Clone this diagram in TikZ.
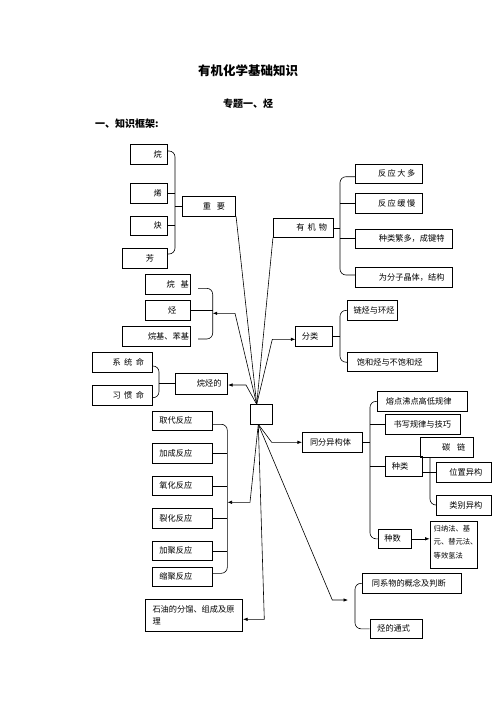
\documentclass[tikz,border=0pt]{standalone}
\usepackage{fontspec}
\newfontfamily\cjk{Noto Sans CJK SC}
\usetikzlibrary{arrows.meta}
\newcommand\mybox[7]{%
  \node[box, minimum width={(#4-#2)*1pt}, minimum height={(#5-#3)*1pt}] (#1) at ({(#2+#4)/2},{(#3+#5)/2}) {};
  \node[txt] (#1t) at (#6,{(#3+#5)/2}) {#7};}
\tikzset{
  box/.style={draw, line width=0.7pt, inner sep=0pt},
  txt/.style={inner sep=0pt, font=\cjk\fontsize{8.2}{10}\selectfont},
  ln/.style={line width=0.6pt},
  rc/.style={line width=0.6pt, rounded corners=6pt},
  arr/.style={line width=0.6pt, -{Latex[length=4.5pt,width=3.5pt]}},
}
\begin{document}
\begin{tikzpicture}[x=1pt,y=-1pt]
\useasboundingbox (0,0) rectangle (496,702);
% headings
\node[inner sep=0pt, font=\cjk\bfseries\fontsize{12.5}{14}\selectfont] (title) at (248,70.7) {有机化学基础知识};
\node[inner sep=0pt, font=\cjk\bfseries\fontsize{10}{12}\selectfont] (sub) at (248,103.3) {专题一、烃};
\node[inner sep=0pt, anchor=west, font=\cjk\bfseries\fontsize{10}{12}\selectfont] (sec) at (95,123.3) {一、知识框架:};
% top-left group
\mybox{wan}{130}{144.3}{167.7}{164.3}{157.7}{烷}
\mybox{xi}{130}{183.3}{167.7}{203.3}{157.7}{烯}
\mybox{que}{130}{216}{167.7}{235}{157.7}{炔}
\mybox{fang}{122.3}{248.3}{167.7}{268.3}{150}{芳}
\mybox{zy}{182.3}{196.3}{235.7}{216}{214}{重\hspace{6pt}要}
% organic compounds group
\mybox{yjw}{273.3}{218.3}{333.3}{237.3}{311.7}{有\hspace{3pt}机\hspace{3pt}物}
\mybox{fy1}{355.7}{164.3}{422.3}{183.3}{396.7}{反\hspace{1.5pt}应\hspace{1.5pt}大\hspace{1.5pt}多}
\mybox{fy2}{355.7}{193.3}{422.3}{213.3}{396.7}{反\hspace{1.5pt}应\hspace{1.5pt}缓\hspace{1.5pt}慢}
\mybox{zl}{355.7}{229}{452.3}{248.3}{411.7}{种类繁多，成键特}
\mybox{wf}{355.7}{267.7}{452.3}{287.7}{411.7}{为分子晶体，结构}
% groups
\mybox{wj}{145.7}{274.3}{190.7}{294.3}{177.7}{烷\hspace{6pt}基}
\mybox{ting}{145.7}{300.7}{190.7}{320}{172.3}{烃}
\mybox{wb}{122.3}{326.7}{190.7}{346}{168.5}{烷基、苯基}
% naming
\mybox{xt}{92.3}{352.3}{152.7}{372.3}{128.3}{系\hspace{3.5pt}统\hspace{3.5pt}命}
\mybox{xg}{92.3}{385.7}{152.7}{405}{128.3}{习\hspace{3.5pt}惯\hspace{3.5pt}命}
\mybox{wtd}{175.7}{373.3}{227.7}{394}{209.2}{烷烃的}
% classification
\mybox{fl}{295.7}{326.7}{332.7}{346}{310}{分类}
\mybox{lh}{347.3}{300.7}{397.3}{320}{374}{链烃与环烃}
\mybox{bh}{347.3}{352.7}{437.3}{371.7}{389.7}{饱和烃与不饱和烃}
% center
\node[box, minimum width=22.2pt, minimum height=20pt] (c) at (261.6,414.3) {};
\coordinate (ctop) at (256.7,404.3);
\coordinate (cbot) at (258.3,424.3);
% isomers
\mybox{tf}{302.3}{432.3}{362.3}{452.3}{330.5}{同分异构体}
\mybox{rd}{377.3}{391.7}{467.3}{411}{418.7}{熔点沸点高低规律}
\mybox{sx}{385.7}{414.3}{460.7}{434}{422.3}{书写规律与技巧}
\mybox{tl}{420.7}{437.5}{473.3}{457.3}{453.7}{碳\hspace{7pt}链}
\mybox{zlb}{385.7}{456.3}{422.7}{476.7}{400}{种类}
\mybox{wz}{436}{462.3}{491.5}{482.3}{465.8}{位置异构}
\mybox{lb}{436}{495}{491.5}{515}{465.8}{类别异构}
\mybox{zs}{378.3}{529.3}{411.7}{548.3}{392.5}{种数}
\node[box, minimum width=47pt, minimum height=47pt] (gn) at (453.5,544.5) {};
\node[txt, anchor=north west, align=left, font=\cjk\fontsize{7.3}{13.5}\selectfont] (gnt) at (433.5,525) {归纳法、基\\元、替元法、\\等效氢法};
% reactions
\mybox{qd}{152.3}{411.7}{212.3}{430}{175.8}{取代反应}
\mybox{jc}{152.3}{443.3}{212.3}{463.3}{175.8}{加成反应}
\mybox{yh}{152.3}{476}{212.3}{495.7}{175.8}{氧化反应}
\mybox{lhf}{152.3}{508.3}{212.3}{528.3}{175.8}{裂化反应}
\mybox{jj}{152.3}{541}{212.3}{560.7}{175.8}{加聚反应}
\mybox{sj}{152.3}{567.7}{212.3}{586}{175.8}{缩聚反应}
% petroleum
\node[box, minimum width=97pt, minimum height=32.4pt] (sy) at (194.2,615.5) {};
\node[txt, anchor=north west, align=left, font=\cjk\fontsize{8.2}{12.4}\selectfont] (syt) at (152.3,605) {石油的分馏、组成及原\\理};
% homologues
\mybox{txw}{362.3}{573.3}{461}{593.3}{408.8}{同系物的概念及判断}
\mybox{ts}{370}{619.3}{422.3}{638.3}{393.7}{烃的通式}

% braces
\draw[rc] (wan.east |- 0,151) -| (175,254) -- (fang.east |- 0,254);
\draw[ln] (xi.east) -- (175,0 |- xi.east);
\draw[ln] (que.east) -- (175,0 |- que.east);
\draw[ln] (175,0 |- zy.west) -- (zy.west);

\draw[rc] (fy1.west |- 0,176.7) -| (340,275) -- (wf.west |- 0,275);
\draw[ln] (340,0 |- fy2.west) -- (fy2.west);
\draw[ln] (340,0 |- zl.west) -- (zl.west);
\draw[ln] (yjw.east) -- (340,0 |- yjw.east);

\draw[rc] (198,288.3) -| (212.7,339) -- (198,339);
\draw[ln] (ting.east) -- (212.7,0 |- ting.east);
\coordinate (b3) at (212.7,313.3);

\draw[rc] (xt.east |- 0,366) -| (159,397.7) -- (xg.east |- 0,397.7);
\draw[ln] (159,0 |- wtd.west) -- (wtd.west);

\draw[rc] (lh.west) -| (340,0 |- bh.west) -- (bh.west);
\draw[ln] (fl.east) -- (340,0 |- fl.east);

\draw[rc] (rd.west) -| (370,0 |- zs.west) -- (zs.west);
\draw[ln] (370,0 |- sx.west) -- (sx.west);
\draw[ln] (370,0 |- zlb.west) -- (zlb.west);
\draw[ln] (tf.east) -- (370,0 |- tf.east);

\draw[rc] (tl.south -| 430,0) |- (lb.west);
\draw[ln] (zlb.east |- wz.west) -- (wz.west);
\draw[arr] (zs.east) -- (gn.west |- zs.east);

\draw[rc] (qd.east |- 0,424.3) -| (227.3,573.3) -- (sj.east |- 0,573.3);
\draw[ln] (jc.east) -- (227.3,0 |- jc.east);
\draw[ln] (yh.east) -- (227.3,0 |- yh.east);
\draw[ln] (lhf.east) -- (227.3,0 |- lhf.east);
\draw[ln] (jj.east) -- (227.3,0 |- jj.east);
\coordinate (b8) at (227.5,502.3);

\draw[rc] (txw.west) -| (355,0 |- ts.west) -- (ts.west);
\coordinate (b9) at (348,600);

% connectors from the centre
\draw[ln] (ctop) -- (zy.south east);
\draw[ln] (ctop) -- (yjw.south west);
\draw[arr] (ctop) -- (235,313.3) -- (b3);
\draw[arr] (ctop) -- (272.3,339.3) -- (fl.west |- 0,339.3);
\draw[arr] (ctop) -- (246,385) -- (wtd.east |- 0,385);
\draw[arr] (cbot) -- (271.7,442.3) -- (tf.west);
\draw[arr] (cbot) -- (250,502.3) -- (b8);
\draw[arr] (cbot) -- (264.3,619.3) -- (sy.east |- 0,619.3);
\draw[arr] (cbot) -- (332.3,600) -- (b9);
\end{tikzpicture}
\end{document}
